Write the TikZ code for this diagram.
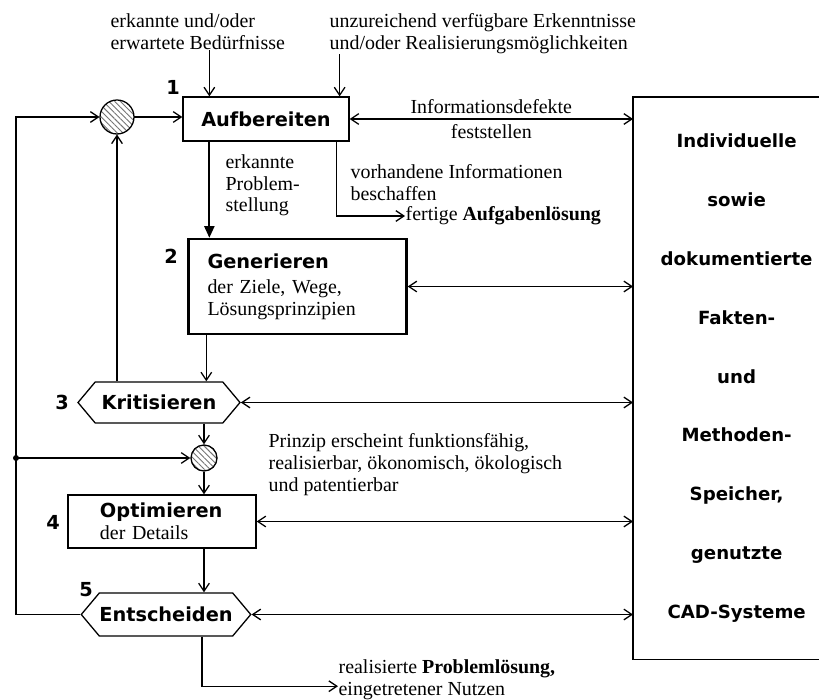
\documentclass[tikz,border=0pt]{standalone}
\usepackage{fontspec}
\setmainfont{Liberation Serif}
\setsansfont{DejaVu Sans}
\usetikzlibrary{arrows.meta,shapes.symbols,patterns.meta}

\newcommand{\stepfont}{\sffamily\bfseries\fontsize{16.5}{19}\selectfont}
\tikzset{
    txt/.style={inner sep=0pt, align=left, font=\fontsize{17}{18.5}\selectfont},
    num/.style={inner sep=0pt, font=\stepfont},
    stepbox/.style={draw, align=left, font=\fontsize{17}{18.5}\selectfont},
    hexbox/.style={draw, shape=signal, signal to=west and east, signal pointer angle=100, inner sep=0pt},
    mixer/.style={draw, circle, inner sep=0pt, pattern={Lines[angle=-45,distance=3.5pt,line width=0.8pt]}, pattern color=black!55},
    arr/.style={-{Straight Barb[length=2.4mm,width=3.2mm]}},
    darr/.style={{Straight Barb[length=2.4mm,width=3.2mm]}-{Straight Barb[length=2.4mm,width=3.2mm]}},
    thickarr/.style={line width=1.8pt, -{Triangle[length=3.5mm,width=3mm]}}
}

\begin{document}
\begin{tikzpicture}[x=0.3mm,y=-0.3mm,line width=1.1pt]
    \useasboundingbox (0,0) rectangle (819,700);
    \clip (0,0) rectangle (819,700);
    % Schritte
    \node [stepbox, minimum width=49.8mm, minimum height=13.2mm] (auf) at (266,119) {\stepfont Aufbereiten};
    \node [stepbox, line width=2pt, text width=54mm, inner xsep=5.7mm, minimum height=28.5mm] (gen) at (297.5,286.5) {{\stepfont Generieren}\\[3pt]der Ziele, Wege,\\Lösungsprinzipien};
    \node [hexbox, minimum width=48.6mm, minimum height=12.3mm] (kri) at (159,402.5) {\stepfont Kritisieren};
    \node [stepbox, text width=37.2mm, inner xsep=9.6mm, minimum height=15.9mm] (opt) at (162,521.5) {{\stepfont Optimieren}\\der Details};
    \node [hexbox, minimum width=50.4mm, minimum height=12.9mm] (ent) at (166,614.5) {\stepfont Entscheiden};
    \node [num] (n1) at (173,87) {1};
    \node [num] (n2) at (171,256) {2};
    \node [num] (n3) at (62,402) {3};
    \node [num] (n4) at (53,522) {4};
    \node [num] (n5) at (86,590) {5};
    \node [mixer, minimum size=10.2mm] (c1) at (117,117) {};
    \node [mixer, minimum size=7.8mm] (c2) at (204,458) {};
    \coordinate (split) at (16,458);
    % Speicher
    \node [anchor=north west, minimum width=61.8mm, minimum height=168.3mm, align=center,
        font=\sffamily\bfseries\fontsize{15.5}{50.2}\selectfont] (mem) at (633,97)
        {Individuelle\\sowie\\dokumentierte\\Fakten-\\und\\Methoden-\\Speicher,\\genutzte\\CAD-Systeme};
    \draw (mem.north east) -- (mem.north west) -- (mem.south west) -- (mem.south east);
    % Texte
    \node [txt, anchor=north west] (need) at (110,13) {erkannte und/oder\\erwartete Bedürfnisse};
    \node [txt, anchor=north west] (lack) at (329,13) {unzureichend verfügbare Erkenntnisse\\und/oder Realisierungsmöglichkeiten};
    \node [txt, anchor=north west] (prob) at (225,154) {erkannte\\Problem-\\stellung};
    \node [txt, anchor=north west] (info) at (350,164) {vorhandene Informationen\\beschaffen};
    \node [txt, anchor=west] (done) at (405,216) {fertige \textbf{Aufgabenlösung}};
    \node [txt, anchor=north west] (pass) at (268,433) {Prinzip erscheint funktionsfähig,\\realisierbar, ökonomisch, ökologisch\\und patentierbar};
    \node [txt, anchor=north west] (real) at (338,659) {realisierte \textbf{Problemlösung,}\\eingetretener Nutzen};
    % Verbindungen
    \draw [arr] ([xshift=8.1mm]auf.north west |- need.south) -- ([xshift=8.1mm]auf.north west);
    \draw [arr] ([xshift=-3mm]auf.north east |- lack.south) -- ([xshift=-3mm]auf.north east);
    \draw [arr] (c1.east) -- (c1.east -| auf.west);
    \draw [thickarr] ([xshift=8.1mm]auf.south west) -- ([xshift=8.1mm]auf.south west |- gen.north);
    \draw [arr] ([xshift=-3.9mm]auf.south east) |- (done.west);
    \draw [darr] (auf.east) -- (auf.east -| mem.west)
        node [txt, midway, above=4pt] (defekt) {Informationsdefekte}
        node [txt, midway, below=4pt] (fest) {feststellen};
    \draw [darr] (gen.east) -- (gen.east -| mem.west);
    \draw [arr] ([xshift=5.7mm]gen.south west) -- ([xshift=5.7mm]gen.south west |- kri.north);
    \draw [arr] (c1 |- kri.north) -- (c1.south);
    \draw [darr] (kri.east) -- (kri.east -| mem.west);
    \draw [arr] (c2 |- kri.south) -- (c2.north);
    \draw [arr] (c2.south) -- (c2 |- opt.north);
    \draw [darr] (opt.east) -- (opt.east -| mem.west);
    \draw [arr] (c2 |- opt.south) -- (c2 |- ent.north);
    \draw [darr] (ent.east) -- (ent.east -| mem.west);
    \draw [arr] (ent.west) -| (split) |- (c1.west);
    \draw [arr] (split) -- (c2.west);
    \fill (split) circle (3);
    \draw [arr] ([xshift=10.8mm]ent.south) |- ([yshift=-2mm]real.west);
\end{tikzpicture}
\end{document}
